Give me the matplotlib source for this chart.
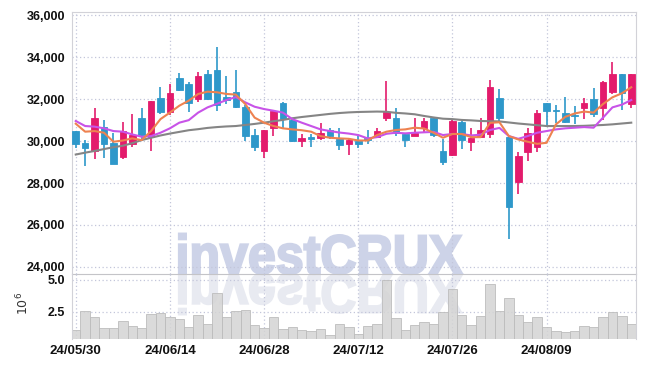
import numpy as np
import matplotlib.pyplot as plt
from matplotlib.textpath import TextPath
from matplotlib.patches import PathPatch
from matplotlib.font_manager import FontProperties
from matplotlib.transforms import Affine2D

# daily candles, 24/05/30 .. 24/08/23
opens = [30480, 29920, 29550, 30680, 29920, 29230, 29840, 31120, 30190, 32040,
         31410, 33020, 32730, 32010, 33180, 33410, 32120, 32330, 31650, 30290,
         29520, 30640, 31800, 31010, 30000, 30190, 30130, 30520, 30110, 29870,
         30000, 30160, 30190, 31120, 31090, 30320, 30240, 30610, 31120, 29550,
         29330, 30930, 29970, 30190, 30340, 32060, 30190, 28040, 29480, 29730,
         31800, 31500, 31360, 31250, 31580, 32010, 31580, 32330, 33180, 31770]
highs = [30500, 30050, 31600, 31010, 30390, 30920, 31290, 31560, 31930, 32570,
         32730, 33240, 32810, 33290, 33370, 34500, 33100, 33410, 31700, 30560,
         30520, 31450, 31850, 31050, 30320, 30320, 30880, 30640, 30640, 30160,
         30240, 30520, 30640, 32860, 31600, 30350, 31120, 31090, 31120, 30080,
         31050, 30960, 30640, 31120, 32920, 32500, 30190, 29470, 30610, 31480,
         31800, 31740, 32090, 31690, 32060, 32540, 32890, 33770, 33180, 33220]
lows = [29660, 28800, 29170, 29200, 28910, 29170, 29710, 30000, 29520, 31300,
        31250, 32400, 31410, 31850, 31950, 31450, 31770, 31600, 30000, 29550,
        29180, 30240, 30610, 29950, 29710, 29710, 30030, 30080, 29600, 29360,
        29650, 29840, 30160, 30960, 30240, 29730, 30240, 30400, 30190, 28880,
        29300, 29630, 29550, 30160, 30150, 30960, 25340, 27460, 29040, 29480,
        30720, 30880, 30880, 30840, 31050, 31160, 31010, 32250, 31480, 31580]
closes = [29860, 29680, 31120, 29870, 28910, 30480, 30290, 30290, 31930, 31410,
          32280, 32460, 31820, 33130, 32010, 31740, 31960, 31650, 30240, 29730,
          30520, 31450, 31050, 30000, 30160, 30080, 30400, 30240, 29810, 30030,
          29870, 30050, 30480, 31400, 30400, 30050, 30400, 30960, 30290, 28990,
          30960, 30050, 30160, 30520, 32600, 31120, 26870, 29280, 30370, 31360,
          31450, 31450, 30930, 31210, 31800, 31290, 32810, 33220, 32280, 33180]

# moving averages as drawn
ma5 = [30830, 30450, 30480, 30400, 29970, 30030, 30130, 30050, 30480, 31050,
       31360, 31690, 31930, 32250, 32360, 32330, 32250, 32220, 31770, 31120,
       30880, 30720, 30610, 30560, 30520, 30450, 30240, 30160, 30130, 30110,
       30030, 30030, 30290, 30450, 30530, 30560, 30640, 30600, 30400, 30160,
       30340, 30340, 30190, 30190, 30870, 30900, 30240, 30080, 29970, 29870,
       29920, 30800, 31160, 31320, 31410, 31360, 31770, 32090, 32280, 32570]
ma20 = [30960, 30720, 30690, 30610, 30480, 30450, 30320, 30210, 30240, 30400,
        30610, 30880, 31000, 31360, 31610, 31780, 31960, 32100, 31850, 31640,
        31530, 31450, 31360, 31050, 30880, 30720, 30560, 30480, 30410, 30360,
        30290, 30130, 30190, 30350, 30400, 30370, 30400, 30420, 30440, 30290,
        30340, 30340, 30270, 30310, 30530, 30630, 30240, 30110, 30240, 30400,
        30480, 30560, 30610, 30640, 30670, 30640, 31120, 31610, 31740, 31960]
ma60 = [29360, 29450, 29530, 29620, 29710, 29780, 29900, 30050, 30160, 30270,
        30360, 30440, 30520, 30570, 30630, 30670, 30700, 30720, 30770, 30820,
        30880, 30950, 31010, 31090, 31150, 31200, 31250, 31300, 31340, 31370,
        31390, 31400, 31410, 31400, 31350, 31320, 31280, 31200, 31130, 31070,
        31050, 31010, 30990, 30960, 30950, 30940, 30890, 30840, 30800, 30760,
        30720, 30720, 30720, 30720, 30730, 30750, 30770, 30800, 30840, 30880]

# volume in millions
volume = [1.05, 2.55, 2.05, 1.18, 1.18, 1.73, 1.34, 1.18, 2.29, 2.37,
          2.05, 1.89, 1.26, 2.21, 1.52, 3.94, 2.05, 2.52, 2.60, 1.42,
          1.18, 2.05, 1.10, 1.26, 1.03, 0.95, 1.10, 0.63, 1.50, 1.26,
          0.73, 1.34, 1.50, 4.99, 1.97, 1.03, 1.42, 1.66, 1.50, 2.47,
          4.26, 2.21, 1.42, 2.13, 4.65, 2.52, 3.55, 2.21, 1.66, 2.05,
          1.26, 0.95, 0.87, 0.95, 1.34, 1.26, 2.05, 2.45, 2.13, 1.50]

date_ticks = [0, 10, 20, 30, 40, 50]
date_labels = ['24/05/30', '24/06/14', '24/06/28', '24/07/12', '24/07/26', '24/08/09']

UP, DOWN = '#e31b6c', '#2e98ca'
GRID = '#c3c6da'
EDGE = '#d2d2d8'

plt.rcParams['font.family'] = ['Liberation Sans', 'DejaVu Sans']

fig = plt.figure(figsize=(6.45, 3.68), dpi=100)
ax = fig.add_axes([0.1116, 0.2554, 0.8744, 0.712])
axv = fig.add_axes([0.1116, 0.078, 0.8744, 0.1774], sharex=ax)
for a in (ax, axv):
    a.set_facecolor('none')

# watermark + reflection, in figure pixels
fp = FontProperties(family='Liberation Sans', weight='bold')
tp = TextPath((0, 0), 'investCRUX', size=1, prop=fp)
bb = tp.get_extents()
sx = 283 / bb.width
sy = 55
t_main = Affine2D().translate(-bb.x0, 0).scale(sx / 100, sy / 100).translate(1.79, 0.945) + fig.dpi_scale_trans
t_refl = Affine2D().translate(-bb.x0, 0).scale(sx / 100, -sy / 100).translate(1.79, 0.935) + fig.dpi_scale_trans
fig.add_artist(PathPatch(tp, transform=t_main, fc='#cdd3e8', ec='#cdd3e8', lw=1.6, zorder=-1))
fig.add_artist(PathPatch(tp, transform=t_refl, fc='#e8eaf1', ec='#e8eaf1', lw=1.6, zorder=-2))

x = np.arange(len(closes))
o = np.array(opens)
c = np.array(closes)
col = [UP if cc >= oo else DOWN for oo, cc in zip(o, c)]
body_lo = np.minimum(o, c)
body_h = np.maximum(np.abs(c - o), 25)

ax.vlines(x, lows, highs, colors=col, linewidth=1.2, zorder=2)
ax.bar(x, body_h, bottom=body_lo, width=0.7, color=col, edgecolor=col, linewidth=0.6, zorder=3)

ax.plot(x, ma60, color='#858585', linewidth=1.5, zorder=4)
ax.plot(x, ma20, color='#c853e8', linewidth=1.5, zorder=5)
ax.plot(x, ma5, color='#ee8250', linewidth=1.5, zorder=6)

axv.bar(x, volume, width=1.0, color='#d4d4d4', edgecolor='#bcbcbc', linewidth=0.7, alpha=0.85, zorder=2)

ax.set_xlim(-0.4, 59.5)
ax.set_ylim(23660, 36160)
ax.set_yticks(range(24000, 36001, 2000))
ax.set_yticklabels([f'{v:,}' for v in range(24000, 36001, 2000)])
axv.set_ylim(0.32, 5.47)
axv.set_yticks([2.5, 5.0])
axv.set_yticklabels(['2.5', '5.0'])
axv.set_xticks(date_ticks)
axv.set_xticklabels(date_labels)
axv.set_ylabel(r'$10^6$', fontsize=9, color='#333333')
axv.yaxis.set_label_coords(-0.072, 0.55)

for a in (ax, axv):
    a.grid(True, linestyle=(0, (1, 2)), color=GRID, linewidth=0.9, zorder=0)
    a.set_axisbelow(True)
    a.tick_params(length=0, labelsize=9, colors='#111111', pad=5)
    for s in a.spines.values():
        s.set_color(EDGE)
    for lab in a.get_yticklabels():
        lab.set_fontweight('bold')
ax.tick_params(axis='x', labelbottom=False)
axv.tick_params(axis='x', labelsize=9.5, pad=4)
for lab in axv.get_xticklabels():
    lab.set_fontweight('bold')
axv.spines['top'].set_visible(False)
axv.spines['bottom'].set_visible(False)
ax.spines['bottom'].set_color('#c4c4c8')

fig.savefig('out.png', dpi=100)
